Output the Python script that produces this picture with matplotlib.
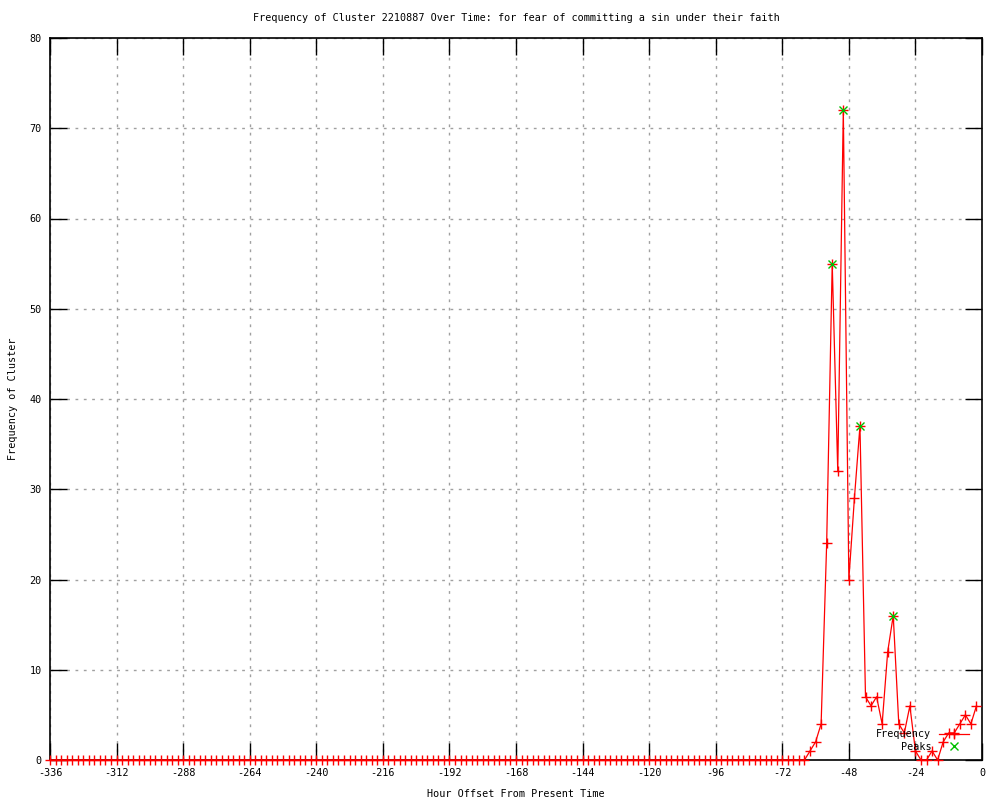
import numpy as np
import matplotlib
matplotlib.use("Agg")
import matplotlib.pyplot as plt

# ---- data ----
hours = list(range(-336, 0, 2))  # -336 .. -2
tail_hours = list(range(-62, 0, 2))
tail_values = [1, 2, 4, 24, 55, 32, 72, 20, 29, 37, 7, 6, 7, 4, 12, 16,
               4, 3, 6, 1, 0, 0, 1, 0, 2, 3, 3, 4, 5, 4, 6]
freq = [0] * (len(hours) - len(tail_values)) + tail_values

peak_hours = [-54, -50, -44, -32]
peak_values = [55, 72, 37, 16]

title = "Frequency of Cluster 2210887 Over Time: for fear of committing a sin under their faith"
xlabel = "Hour Offset From Present Time"
ylabel = "Frequency of Cluster"
xticks = list(range(-336, 1, 24))
yticks = list(range(0, 81, 10))

# ---- plot ----
plt.rcParams['font.family'] = ['DejaVu Sans Mono']
plt.rcParams['axes.unicode_minus'] = False
fs = 7.3

fig = plt.figure(figsize=(10, 8), dpi=100)
ax = fig.add_axes([0.05, 0.05, 0.932, 0.9025])

ax.plot(hours, freq, color='red', lw=0.9, marker='+', ms=7, mew=1.0,
        label='Frequency', zorder=3, clip_on=False)
ax.plot(peak_hours, peak_values, linestyle='none', color='#00c000', marker='x',
        ms=6, mew=1.0, label='Peaks', zorder=4, clip_on=False)

ax.set_xlim(-336, 0)
ax.set_ylim(0, 80)
ax.set_xticks(xticks)
ax.set_yticks(yticks)
ax.tick_params(direction='in', length=12, width=1, top=True, right=True,
               labelsize=fs, pad=6, colors='black')
ax.grid(True, linestyle=(0, (2, 4)), color='#a0a0a0', lw=1)
for s in ax.spines.values():
    s.set_linewidth(1.2)

ax.set_title(title, fontsize=fs, pad=12)
ax.set_xlabel(xlabel, fontsize=fs, labelpad=8)
ax.set_ylabel(ylabel, fontsize=fs, labelpad=8)

leg = ax.legend(loc='lower right', bbox_to_anchor=(0.9915, 0.0045), frameon=False,
                markerfirst=False, fontsize=fs, handlelength=3.0,
                handletextpad=0.7, labelspacing=0.25, borderaxespad=0.1)

fig.savefig('out.png', dpi=100)
